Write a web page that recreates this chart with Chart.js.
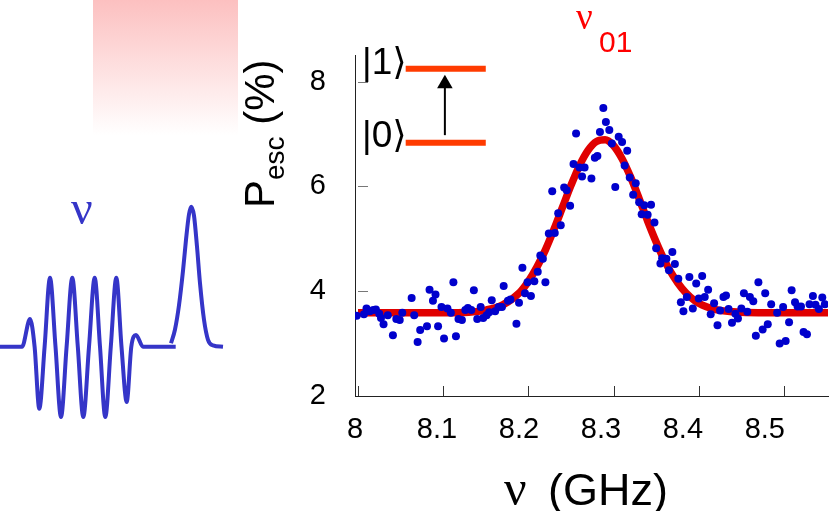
<!DOCTYPE html>
<html>
<head>
<meta charset="utf-8">
<script src="https://cdn.jsdelivr.net/npm/chart.js@4.4.1/dist/chart.umd.min.js"></script>
<style>
  body { margin: 0; background: #fff; }
  #wrap { position: relative; width: 837px; height: 511px; overflow: hidden; }
  #glow { position: absolute; left: 93px; top: 0; width: 145px; height: 135px;
          background: linear-gradient(to bottom, #fcc0c0, #ffffff); }
  canvas { position: absolute; left: 0; top: 0; }
</style>
</head>
<body>
<div id="wrap">
  <div id="glow"></div>
  <canvas id="chart" width="837" height="511"></canvas>
  <canvas id="pulse" width="240" height="440"></canvas>
</div>
<script>
// measured escape probability vs microwave frequency
var freqGHz = [
  7.9985, 8.007, 8.010, 8.014, 8.018, 8.021, 8.025, 8.027, 8.030, 8.035,
  8.041, 8.045, 8.049, 8.052, 8.063, 8.066, 8.070, 8.073, 8.081, 8.084,
  8.088, 8.091, 8.094, 8.098, 8.101, 8.105, 8.109, 8.112, 8.115, 8.118,
  8.122, 8.126, 8.129, 8.133, 8.136, 8.140, 8.144, 8.147, 8.151, 8.154,
  8.157, 8.161, 8.165, 8.169, 8.171, 8.176, 8.179, 8.186, 8.189, 8.193,
  8.196, 8.199, 8.203, 8.207, 8.211, 8.214, 8.217, 8.220, 8.224, 8.231,
  8.228, 8.235, 8.238, 8.242, 8.245, 8.249, 8.253, 8.256, 8.260, 8.263,
  8.266, 8.274, 8.278, 8.281, 8.284, 8.288, 8.291, 8.295, 8.298, 8.302,
  8.306, 8.310, 8.313, 8.316, 8.319, 8.323, 8.326, 8.330, 8.333, 8.336,
  8.340, 8.344, 8.348, 8.350, 8.355, 8.357, 8.362, 8.365, 8.369, 8.372,
  8.376, 8.379, 8.382, 8.386, 8.389, 8.393, 8.397, 8.400, 8.404, 8.407,
  8.411, 8.414, 8.418, 8.422, 8.425, 8.429, 8.432, 8.435, 8.439, 8.443,
  8.446, 8.450, 8.453, 8.457, 8.460, 8.464, 8.467, 8.470, 8.475, 8.478,
  8.481, 8.485, 8.492, 8.495, 8.499, 8.502, 8.506, 8.509, 8.513, 8.516,
  8.520, 8.523, 8.527, 8.530, 8.534, 8.537, 8.541, 8.545, 8.548
];
var pEsc = [
  3.53, 3.56, 3.67, 3.62, 3.64, 3.65, 3.57, 3.49, 3.37, 3.54,
  3.16, 3.47, 3.45, 3.59, 3.87, 3.54, 3.03, 3.26, 3.33, 4.03,
  3.82, 3.94, 3.33, 3.70, 3.10, 3.67, 3.59, 4.17, 3.14, 3.47,
  3.45, 3.64, 3.68, 3.64, 4.02, 3.47, 3.70, 3.49, 3.54, 3.60,
  3.83, 3.62, 3.70, 3.70, 4.10, 3.82, 3.84, 3.38, 3.78, 4.45,
  3.96, 4.17, 3.91, 4.19, 4.37, 4.68, 4.62, 4.17, 5.10, 5.11,
  5.91, 5.49, 5.26, 5.98, 5.93, 5.63, 6.43, 7.01, 6.36, 6.19,
  6.36, 6.15, 6.55, 6.58, 7.04, 7.50, 7.23, 7.08, 6.82, 5.99,
  6.95, 6.85, 6.40, 6.68, 6.17, 5.84, 6.06, 5.70, 5.47, 5.64,
  5.46, 5.65, 5.31, 4.82, 4.53, 4.63, 4.62, 4.40, 4.75, 4.52,
  4.24, 3.79, 3.62, 3.89, 4.27, 3.67, 4.15, 3.86, 4.29, 3.89,
  4.03, 3.56, 3.77, 3.35, 3.63, 3.89, 3.92, 3.66, 3.40, 3.57,
  3.48, 3.67, 3.96, 3.61, 3.89, 3.81, 3.15, 4.17, 3.27, 3.96,
  3.37, 3.75, 3.59, 3.00, 3.70, 3.05, 3.41, 4.02, 3.79, 3.71,
  3.71, 3.22, 3.18, 3.75, 3.91, 3.74, 3.66, 3.88, 3.75
];

// resonance fit (red curve)
var fitFreq = [8.0, 8.05, 8.10, 8.13, 8.15, 8.17, 8.19, 8.20, 8.21, 8.22, 8.23, 8.24,
  8.25, 8.26, 8.27, 8.28, 8.29, 8.30, 8.31, 8.32, 8.33, 8.34, 8.35, 8.36, 8.37,
  8.38, 8.39, 8.40, 8.42, 8.44, 8.47, 8.50, 8.552];
var fitP = [3.59, 3.59, 3.59, 3.60, 3.64, 3.74, 3.98, 4.19, 4.46, 4.79, 5.18, 5.60,
  6.02, 6.40, 6.69, 6.86, 6.89, 6.78, 6.53, 6.18, 5.77, 5.34, 4.94, 4.58, 4.29,
  4.06, 3.89, 3.77, 3.65, 3.61, 3.59, 3.59, 3.59];

// energy level inset, drawn in data units
var levelX = [8.056, 8.150];
var levelE = [6.835, 8.249];
var arrowX = 8.102;
var arrowY = [6.98, 7.96];

var xTickVals = [8, 8.1, 8.2, 8.3, 8.4, 8.5];
var xTickLabels = ['8', '8.1', '8.2', '8.3', '8.4', '8.5'];
var yTickVals = [2, 4, 6, 8];
var yTickLabels = ['2', '4', '6', '8'];

// microwave drive burst and readout pulse sketch
var driveT = [0, 2.2, 3.0, 3.46, 3.93, 4.46, 5.0, 5.55, 6.1, 6.66, 7.23, 7.78, 8.33,
  8.9, 9.47, 10.0, 10.53, 11.08, 11.63, 12.15, 12.67, 13.13, 13.6, 14.3, 17.57];
var driveAmp = [0, 0, 0.40, 0, -0.90, 0, 1.0, 0, -1.02, 0, 1.0, 0, -1.02,
  0, 1.0, 0, -1.02, 0, 1.0, 0, -0.80, 0, 0.17, 0, 0];
var readT = [17.1, 17.5, 17.9, 18.3, 18.6, 18.9, 19.13, 19.4, 19.7, 20.0, 20.4, 20.8, 21.3, 22.3];
var readAmp = [0.05, 0.25, 0.6, 1.1, 1.55, 1.92, 2.03, 1.9, 1.45, 0.92, 0.39, 0.10, 0.02, 0];

var sans = '"Liberation Sans", Arial, "DejaVu Sans", sans-serif';
var serif = '"Liberation Serif", "Times New Roman", serif';

function pts(xs, ys) {
    return xs.map(function (v, i) { return {x: v, y: ys[i]}; });
}

var overlay = {
    id: 'overlay',
    afterDraw: function (chart) {
        var c = chart.ctx, a = chart.chartArea;
        var x = chart.scales.x, y = chart.scales.y;
        c.save();
        // inward tick marks
        c.lineWidth = 1;
        c.strokeStyle = '#333';
        c.beginPath();
        xTickVals.forEach(function (v) {
            var px = Math.round(x.getPixelForValue(v)) + 0.5;
            c.moveTo(px, a.bottom);
            c.lineTo(px, a.bottom - 10);
        });
        c.stroke();
        c.strokeStyle = '#777';
        c.beginPath();
        yTickVals.forEach(function (v) {
            if (v === 2) return;
            var py = Math.round(y.getPixelForValue(v)) + 0.5;
            c.moveTo(a.left + 3, py);
            c.lineTo(a.left + 13, py);
        });
        c.stroke();

        c.fillStyle = '#000';
        c.textBaseline = 'alphabetic';
        c.textAlign = 'left';

        // y title  P_esc (%)
        c.save();
        c.translate(274, 208);
        c.rotate(-Math.PI / 2);
        c.font = '42px ' + sans;
        c.fillText('P', 0, 0);
        var w = c.measureText('P').width;
        c.font = '28px ' + sans;
        c.fillText('esc', w, 10);
        w += c.measureText('esc').width;
        c.font = '42px ' + sans;
        c.fillText(' (%)', w, 0);
        c.restore();

        // x title
        c.font = '50px ' + serif;
        c.fillText('ν', 504, 505);
        c.font = '45px ' + sans;
        c.fillText('(GHz)', 548, 505);

        // transition label
        c.fillStyle = '#ff0000';
        c.font = '37px ' + serif;
        c.fillText('ν', 576, 29);
        c.font = '30px ' + sans;
        c.fillText('01', 599, 52);

        // level labels
        c.fillStyle = '#000';
        c.textAlign = 'right';
        c.font = '37px ' + sans;
        var lx = x.getPixelForValue(levelX[0]) + 1;
        c.fillText('|1⟩', lx, y.getPixelForValue(levelE[1]) + 5);
        c.fillText('|0⟩', lx, y.getPixelForValue(levelE[0]) + 4);
        c.restore();
    }
};

var nuLabel = {
    id: 'nuLabel',
    afterDraw: function (chart) {
        var c = chart.ctx;
        c.save();
        c.fillStyle = '#3535c8';
        c.font = '48px ' + serif;
        c.textBaseline = 'alphabetic';
        c.fillText('ν', 71, 224);
        c.restore();
    }
};

window.onload = function () {
    var ctx = document.getElementById('chart').getContext('2d');

    window.theChart = new Chart(ctx, {
        type: 'scatter',
        data: {
            datasets: [
                {
                    label: 'data',
                    data: pts(freqGHz, pEsc),
                    backgroundColor: '#0000cc',
                    borderColor: '#0000cc',
                    pointRadius: 4,
                    pointBorderWidth: 0,
                    order: 0
                },
                {
                    label: 'fit',
                    data: pts(fitFreq, fitP),
                    showLine: true,
                    borderColor: '#e00000',
                    borderWidth: 7.5,
                    pointRadius: 0,
                    cubicInterpolationMode: 'monotone',
                    order: 1
                },
                {
                    label: '|1>',
                    data: pts(levelX, [levelE[1], levelE[1]]),
                    showLine: true,
                    borderColor: '#ff3b00',
                    borderWidth: 6,
                    pointRadius: 0,
                    order: 2
                },
                {
                    label: '|0>',
                    data: pts(levelX, [levelE[0], levelE[0]]),
                    showLine: true,
                    borderColor: '#ff3b00',
                    borderWidth: 6,
                    pointRadius: 0,
                    order: 2
                },
                {
                    label: 'arrow',
                    data: pts([arrowX, arrowX], arrowY),
                    showLine: true,
                    borderColor: '#000',
                    borderWidth: 2,
                    backgroundColor: '#000',
                    pointStyle: 'triangle',
                    pointRadius: [0, 9],
                    pointBorderWidth: 0,
                    order: 2
                }
            ]
        },
        options: {
            responsive: false,
            animation: false,
            events: [],
            layout: {padding: {top: 55, left: 0, right: 0, bottom: 0}},
            plugins: {
                legend: {display: false},
                tooltip: {enabled: false}
            },
            scales: {
                x: {
                    type: 'linear',
                    position: 'bottom',
                    min: 7.9965,
                    max: 8.5517,
                    ticks: {display: false},
                    grid: {display: false, drawTicks: false},
                    border: {display: true, color: '#222', width: 1},
                    afterFit: function (s) { s.height = 0; }
                },
                xl: {
                    type: 'linear',
                    position: 'bottom',
                    min: 7.9999,
                    max: 8.5771,
                    ticks: {
                        stepSize: 0.1,
                        includeBounds: false,
                        autoSkip: false,
                        maxRotation: 0,
                        padding: 17,
                        color: '#000',
                        font: {family: sans, size: 29},
                        callback: function (v, i) { return xTickLabels[i]; }
                    },
                    grid: {display: false, drawTicks: false},
                    border: {display: false},
                    afterFit: function (s) { s.height = 115; }
                },
                y: {
                    type: 'linear',
                    min: 2,
                    max: 8.51,
                    ticks: {
                        stepSize: 2,
                        includeBounds: false,
                        padding: 29,
                        color: '#000',
                        font: {family: sans, size: 29},
                        callback: function (v, i) { return yTickLabels[i]; }
                    },
                    grid: {display: false, drawTicks: false},
                    border: {display: true, color: '#222', width: 1},
                    afterFit: function (s) { s.width = 355; }
                }
            }
        },
        plugins: [overlay]
    });

    var ctx2 = document.getElementById('pulse').getContext('2d');

    window.thePulse = new Chart(ctx2, {
        type: 'scatter',
        data: {
            datasets: [
                {
                    data: pts(driveT, driveAmp),
                    showLine: true,
                    borderColor: '#3535c8',
                    borderWidth: 4,
                    pointRadius: 0,
                    cubicInterpolationMode: 'monotone',
                    clip: false
                },
                {
                    data: pts(readT, readAmp),
                    showLine: true,
                    borderColor: '#3535c8',
                    borderWidth: 4,
                    pointRadius: 0,
                    cubicInterpolationMode: 'monotone',
                    clip: false
                }
            ]
        },
        options: {
            responsive: false,
            animation: false,
            events: [],
            layout: {padding: 0},
            plugins: {
                legend: {display: false},
                tooltip: {enabled: false}
            },
            scales: {
                x: {display: false, min: 0, max: 24},
                y: {display: false, min: -1.352, max: 5.025}
            }
        },
        plugins: [nuLabel]
    });
};
</script>
</body>
</html>
